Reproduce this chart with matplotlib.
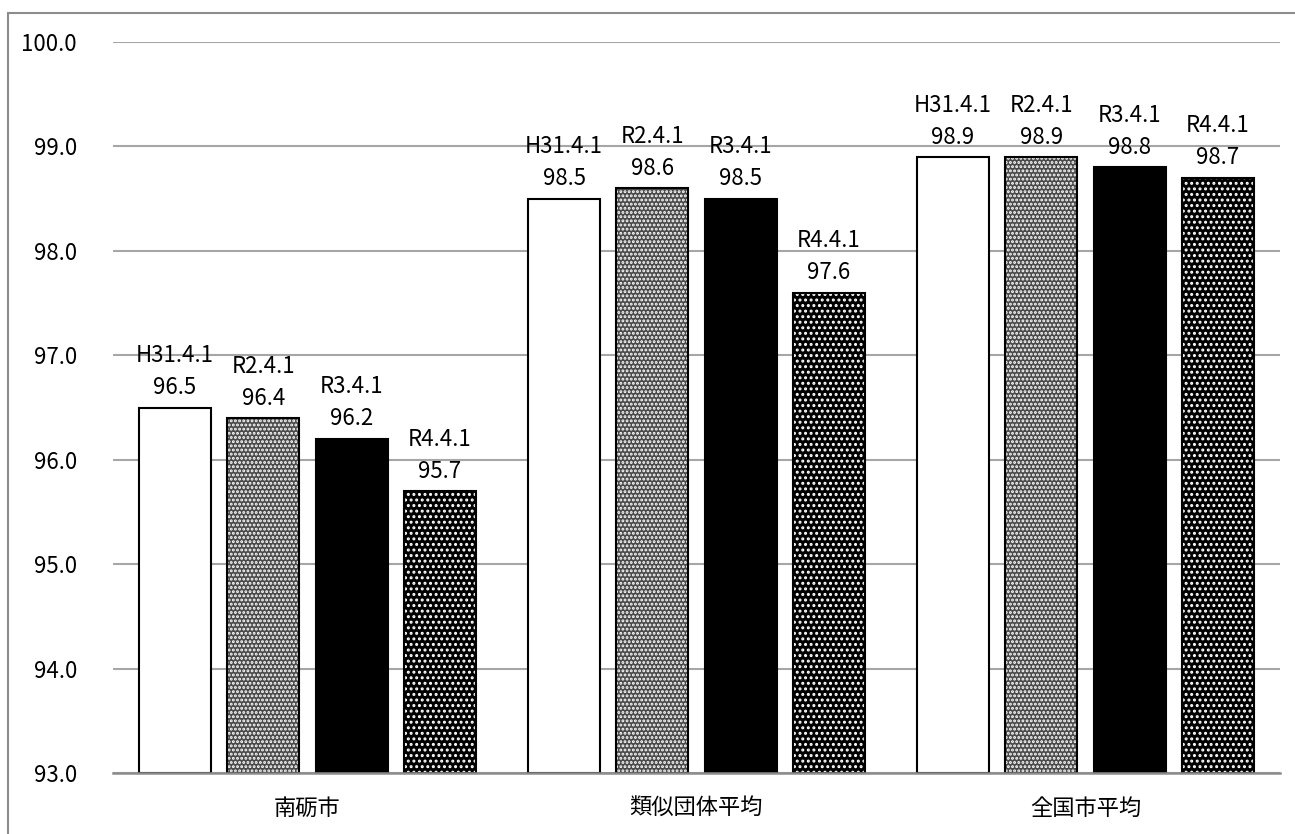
import matplotlib.pyplot as plt
import numpy as np
from matplotlib.patches import Rectangle

plt.rcParams['font.family'] = ['Noto Sans CJK JP', 'DejaVu Sans']

categories = ['南砺市', '類似団体平均', '全国市平均']
periods = ['H31.4.1', 'R2.4.1', 'R3.4.1', 'R4.4.1']
values = [
    [96.5, 98.5, 98.9],  # H31.4.1
    [96.4, 98.6, 98.9],  # R2.4.1
    [96.2, 98.5, 98.8],  # R3.4.1
    [95.7, 97.6, 98.7],  # R4.4.1
]
y_ticks = [93.0, 94.0, 95.0, 96.0, 97.0, 98.0, 99.0, 100.0]

# face colour, hatch colour, hatch pattern
styles = [
    ('white', 'white', None),
    ('#4a4a4a', 'white', '....'),
    ('black', 'black', None),
    ('black', 'white', '...'),
]

fig = plt.figure(figsize=(12.95, 8.34), dpi=100)
ax = fig.add_axes([113 / 1295, 1 - 773 / 834, 1167 / 1295, 731 / 834])

x = np.arange(len(categories))
width = 0.185
step = 0.227

plt.rcParams['hatch.linewidth'] = 1.4
for j, per in enumerate(periods):
    pos = x + (j - 1.5) * step
    face, hcol, hatch = styles[j]
    heights = np.array(values[j]) - 93.0
    ax.bar(pos, heights, width, bottom=93.0, color=face, edgecolor=hcol,
           hatch=hatch, linewidth=0, zorder=3)
    ax.bar(pos, heights, width, bottom=93.0, fill=False, edgecolor='black',
           linewidth=1.5, zorder=4)
    for xi, v in zip(pos, values[j]):
        ax.annotate(f'{per}\n{v:.1f}', (xi, v), xytext=(0, 6),
                    textcoords='offset points', ha='center', va='bottom',
                    fontsize=16, linespacing=1.5, zorder=5)

ax.set_xlim(-0.5, 2.5)
ax.set_ylim(93.0, 100.0)
ax.set_yticks(y_ticks)
ax.set_yticklabels([f'{t:.1f}' for t in y_ticks], fontsize=16)
ax.set_xticks(x)
ax.set_xticklabels(categories, fontsize=16)
ax.tick_params(axis='y', length=0, pad=26)
ax.tick_params(axis='x', length=0, pad=17)
ax.grid(axis='y', color='#a6a6a6', linewidth=1.5, zorder=0)
for s in ['top', 'right', 'left']:
    ax.spines[s].set_visible(False)
ax.spines['bottom'].set_color('#8c8c8c')
ax.spines['bottom'].set_linewidth(1.8)
ax.spines['bottom'].set_zorder(5)

fig.patches.append(Rectangle((8 / 1295, -0.01), 1.02, 1 - 13 / 834 + 0.01,
                             transform=fig.transFigure, fill=False,
                             edgecolor='#8c8c8c', linewidth=1.5))

fig.savefig('out.png', dpi=100)
